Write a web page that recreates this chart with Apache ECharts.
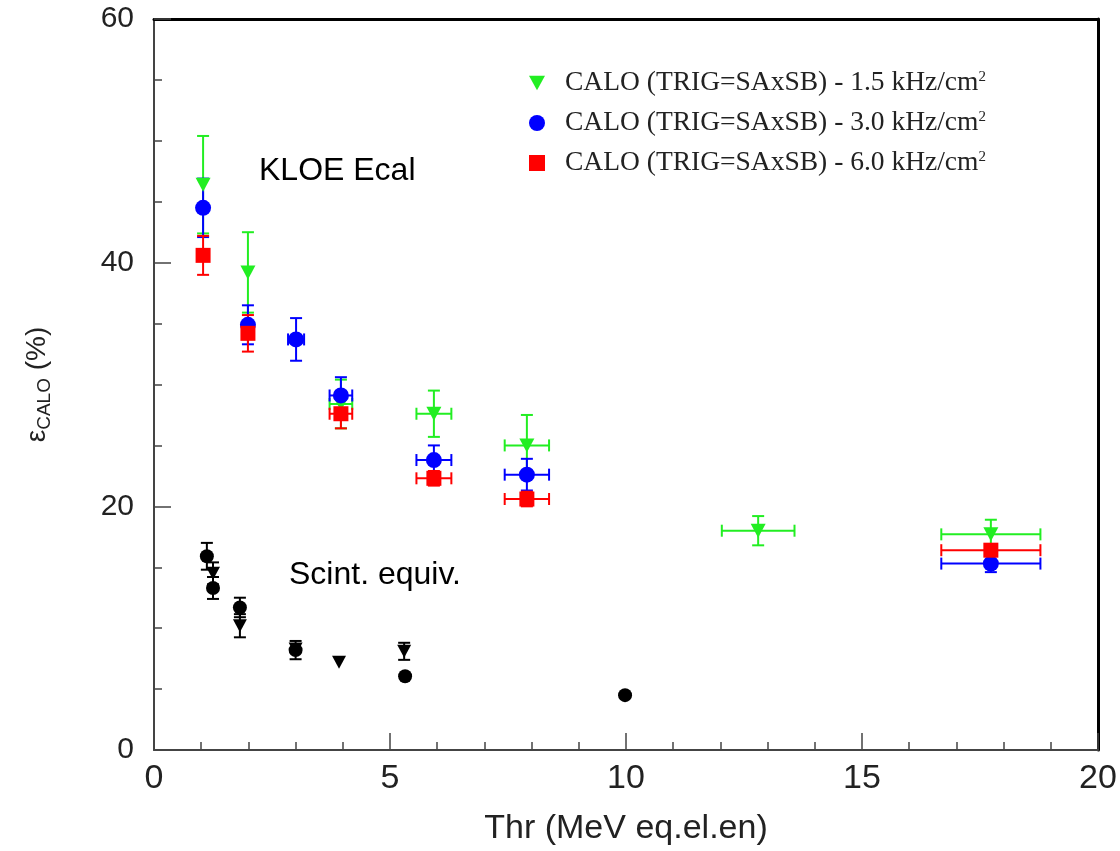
<!DOCTYPE html>
<html><head><meta charset="utf-8">
<script src="https://cdn.jsdelivr.net/npm/echarts@6/dist/echarts.min.js"></script>
<style>html,body{margin:0;padding:0;background:#fff}#c{width:1120px;height:851px}</style>
</head><body><div id="c"></div>
<script>
// ---- data ----
const seriesNames = ['CALO (TRIG=SAxSB) - 1.5 kHz/cm', 'CALO (TRIG=SAxSB) - 3.0 kHz/cm', 'CALO (TRIG=SAxSB) - 6.0 kHz/cm'];
const greenX  = [1.04, 1.99, 3.96, 5.93, 7.90, 12.80, 17.73];
const greenY  = [46.4, 39.2, 28.4, 27.6, 25.0, 18.0, 17.7];
const greenEY = [4.0, 3.3, 2.0, 1.9, 2.5, 1.2, 1.2];
const greenEX = [0, 0, 0.24, 0.37, 0.47, 0.77, 1.05];
const blueX   = [1.04, 1.99, 3.01, 3.96, 5.93, 7.90, 17.73];
const blueY   = [44.5, 34.9, 33.7, 29.1, 23.8, 22.6, 15.3];
const blueEY  = [2.4, 1.6, 1.75, 1.5, 1.2, 1.3, 0.7];
const blueEX  = [0, 0, 0.17, 0.24, 0.37, 0.47, 1.05];
const redX    = [1.04, 1.99, 3.96, 5.93, 7.90, 17.73];
const redY    = [40.6, 34.2, 27.6, 22.3, 20.6, 16.4];
const redEY   = [1.6, 1.5, 1.2, 0.6, 0.6, 0.3];
const redEX   = [0, 0, 0.24, 0.37, 0.47, 1.05];
const scintCircX  = [1.12, 1.25, 1.82, 3.00, 5.32, 9.98];
const scintCircY  = [15.9, 13.3, 11.7, 8.2, 6.05, 4.5];
const scintCircEY = [1.1, 0.9, 0.8, 0.75, 0, 0];
const scintTriX   = [1.25, 1.82, 3.00, 3.92, 5.30];
const scintTriY   = [14.5, 10.2, 8.3, 7.2, 8.1];
const scintTriEY  = [0.9, 0.95, 0, 0, 0.7];
const xTicks = [0, 5, 10, 15, 20];
const yTicks = [0, 20, 40, 60];
const annotations = ['KLOE Ecal', 'Scint. equiv.'];

const triDown = 'path://M0,0L10,0L5,9Z';
const GREEN = '#22ee22', BLUE = '#0000ff', RED = '#ff0000', BLACK = '#000000';

function pts(xs, ys) { return xs.map((x, i) => [x, ys[i]]); }
function errData(xs, ys, ey, ex) { return xs.map((x, i) => [x, ys[i], ey[i], ex ? ex[i] : 0]); }

function errSeries(data, color, cap) {
  return {
    type: 'custom', z: 2, silent: true, data: data,
    encode: { x: 0, y: 1 },
    renderItem: function (params, api) {
      const x = api.value(0), y = api.value(1), ey = api.value(2), ex = api.value(3);
      const ch = [];
      const st = { stroke: color, lineWidth: 2 };
      if (ey > 0) {
        const a = api.coord([x, y - ey]), b = api.coord([x, y + ey]);
        ch.push({ type: 'line', shape: { x1: a[0], y1: a[1], x2: b[0], y2: b[1] }, style: st });
        ch.push({ type: 'line', shape: { x1: a[0] - cap, y1: a[1], x2: a[0] + cap, y2: a[1] }, style: st });
        ch.push({ type: 'line', shape: { x1: b[0] - cap, y1: b[1], x2: b[0] + cap, y2: b[1] }, style: st });
      }
      if (ex > 0) {
        const a = api.coord([x - ex, y]), b = api.coord([x + ex, y]);
        ch.push({ type: 'line', shape: { x1: a[0], y1: a[1], x2: b[0], y2: b[1] }, style: st });
        ch.push({ type: 'line', shape: { x1: a[0], y1: a[1] - cap, x2: a[0], y2: a[1] + cap }, style: st });
        ch.push({ type: 'line', shape: { x1: b[0], y1: b[1] - cap, x2: b[0], y2: b[1] + cap }, style: st });
      }
      return { type: 'group', children: ch };
    }
  };
}

const chart = echarts.init(document.getElementById('c'), null, { renderer: 'canvas' });
const tickStyle = { color: '#444', width: 1.5 };
const option = {
  animation: false,
  backgroundColor: '#fff',
  grid: { left: 154, right: 22, top: 19, bottom: 99 },
  legend: {
    left: 524, top: 64, orient: 'vertical', itemGap: 12, itemWidth: 16, itemHeight: 16,
    data: [
      { name: seriesNames[0], icon: triDown },
      { name: seriesNames[1], icon: 'circle' },
      { name: seriesNames[2], icon: 'rect' }
    ],
    formatter: function (n) { return '{b|' + n + '}{s|2}'; },
    textStyle: {
      rich: {
        b: { fontFamily: 'Liberation Serif', fontSize: 27.5, color: '#222', lineHeight: 26, padding: [0, 0, 0, 15] },
        s: { fontFamily: 'Liberation Serif', fontSize: 15, color: '#222', lineHeight: 26, verticalAlign: 'top' }
      }
    }
  },
  xAxis: [{
    type: 'value', min: 0, max: 20, interval: 5,
    name: 'Thr (MeV eq.el.en)', nameLocation: 'middle', nameGap: 62,
    nameTextStyle: { fontFamily: 'Liberation Sans', fontSize: 34, color: '#222' },
    axisLine: { show: true, onZero: false, lineStyle: { color: '#444', width: 2 } },
    axisTick: { show: true, inside: true, length: 17, lineStyle: tickStyle },
    minorTick: { show: true, splitNumber: 5, length: 8, lineStyle: tickStyle },
    splitLine: { show: false },
    axisLabel: { fontFamily: 'Liberation Sans', fontSize: 34, color: '#222', margin: 12,
      formatter: v => xTicks.includes(v) ? String(v) : '' }
  }, {
    type: 'value', min: 0, max: 20, position: 'top',
    axisLine: { show: true, onZero: false, lineStyle: { color: '#000', width: 3 } },
    axisTick: { show: false }, axisLabel: { show: false }, splitLine: { show: false }
  }],
  yAxis: [{
    type: 'value', min: 0, max: 60, interval: 20,
    name: '{e|ε}{s|CALO}{e| (%)}', nameLocation: 'middle', nameGap: 100, nameRotate: 90,
    nameTextStyle: {
      rich: {
        e: { fontFamily: 'Liberation Sans', fontSize: 28, color: '#222', lineHeight: 34 },
        s: { fontFamily: 'Liberation Sans', fontSize: 19, color: '#222', lineHeight: 34, verticalAlign: 'bottom' }
      }
    },
    axisLine: { show: true, onZero: false, lineStyle: { color: '#444', width: 2 } },
    axisTick: { show: true, inside: true, length: 17, lineStyle: tickStyle },
    minorTick: { show: true, splitNumber: 4, length: 8, lineStyle: tickStyle },
    splitLine: { show: false },
    axisLabel: { fontFamily: 'Liberation Sans', fontSize: 30, color: '#222', margin: 20,
      formatter: v => yTicks.includes(v) ? String(v) : '' }
  }, {
    type: 'value', min: 0, max: 60, position: 'right',
    axisLine: { show: true, onZero: false, lineStyle: { color: '#000', width: 3 } },
    axisTick: { show: false }, axisLabel: { show: false }, splitLine: { show: false }
  }],
  graphic: [
    { type: 'text', left: 259, top: 155, style: { text: annotations[0], font: '32px "Liberation Sans"', fill: '#000' } },
    { type: 'text', left: 289, top: 559, style: { text: annotations[1], font: '32px "Liberation Sans"', fill: '#000' } }
  ],
  series: [
    errSeries(errData(greenX, greenY, greenEY, greenEX), GREEN, 6),
    errSeries(errData(blueX, blueY, blueEY, blueEX), BLUE, 6),
    errSeries(errData(redX, redY, redEY, redEX), RED, 6),
    errSeries(errData(scintCircX, scintCircY, scintCircEY), BLACK, 6),
    errSeries(errData(scintTriX, scintTriY, scintTriEY), BLACK, 6),
    { name: seriesNames[0], type: 'scatter', z: 3, symbol: triDown, symbolSize: [15, 14], itemStyle: { color: GREEN, opacity: 1 }, data: pts(greenX, greenY) },
    { name: seriesNames[1], type: 'scatter', z: 3, symbol: 'circle', symbolSize: 16, itemStyle: { color: BLUE, opacity: 1 }, data: pts(blueX, blueY) },
    { name: seriesNames[2], type: 'scatter', z: 4, symbol: 'rect', symbolSize: 15, itemStyle: { color: RED, opacity: 1 }, data: pts(redX, redY) },
    { name: 'scint circ', type: 'scatter', z: 3, symbol: 'circle', symbolSize: 14, itemStyle: { color: BLACK, opacity: 1 }, data: pts(scintCircX, scintCircY) },
    { name: 'scint tri', type: 'scatter', z: 3, symbol: triDown, symbolSize: [14, 13], itemStyle: { color: BLACK, opacity: 1 }, data: pts(scintTriX, scintTriY) }
  ]
};
chart.setOption(option);
</script></body></html>
